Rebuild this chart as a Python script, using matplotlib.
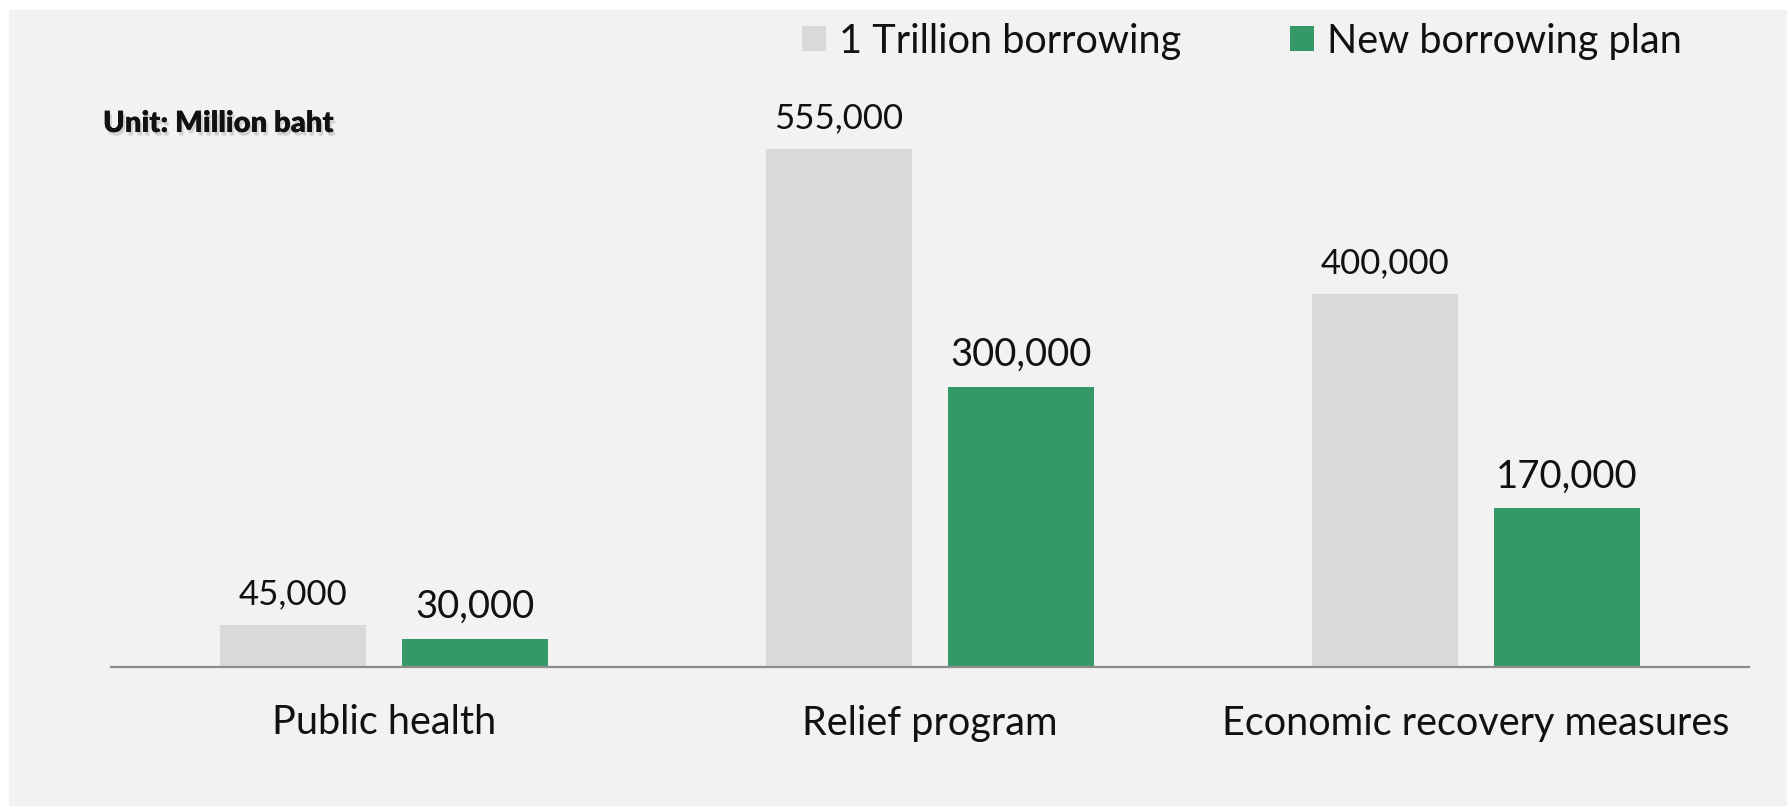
import matplotlib.pyplot as plt
import matplotlib.patheffects as pe
from matplotlib.patches import Rectangle
import numpy as np

# data
categories = ["Public health", "Relief program", "Economic recovery measures"]
old_plan = [45000, 555000, 400000]
new_plan = [30000, 300000, 170000]
series_names = ["1 Trillion borrowing", "New borrowing plan"]

plt.rcParams["font.family"] = ["Lato", "DejaVu Sans"]

W, H = 1787, 806
fig = plt.figure(figsize=(W / 100, H / 100), dpi=100, facecolor="white")
# grey panel (small white margin top & left)
fig.patches.append(Rectangle((9 / W, 0), 1 - 9 / W, 1 - 10 / H,
                             transform=fig.transFigure, facecolor="#f2f2f2",
                             edgecolor="none", zorder=-10))

ax = fig.add_axes([111 / W, 1 - 667 / H, (1749 - 111) / W, 560 / H])
ax.set_facecolor("none")

x = np.arange(len(categories))
w = 0.267
off = 0.167
b1 = ax.bar(x - off, old_plan, w, color="#d9d9d9", label=series_names[0])
b2 = ax.bar(x + off, new_plan, w, color="#339966", label=series_names[1])

for rect, v in zip(b1, old_plan):
    ax.annotate(f"{v:,}", (rect.get_x() + rect.get_width() / 2, v),
                xytext=(0, 15), textcoords="offset points",
                ha="center", va="baseline", fontsize=25, color="#111111")
for rect, v in zip(b2, new_plan):
    ax.annotate(f"{v:,}", (rect.get_x() + rect.get_width() / 2, v),
                xytext=(0, 15), textcoords="offset points",
                ha="center", va="baseline", fontsize=27.5, color="#111111")

ax.set_xlim(-0.5, 2.5)
ax.set_ylim(0, 600000)
ax.set_xticks(x)
ax.set_xticklabels(categories, fontsize=28.5, color="#111111")
ax.tick_params(axis="x", length=0, pad=27)
ax.set_yticks([])
for s in ["top", "left", "right"]:
    ax.spines[s].set_visible(False)
ax.spines["bottom"].set_color("#8c8c8c")
ax.spines["bottom"].set_linewidth(1.6)

fig.legend(handles=[b1, b2], loc="center left", bbox_to_anchor=(802 / W, 1 - 41 / H),
           ncol=2, frameon=False, fontsize=28.5, handlelength=0.6, handleheight=0.58,
           handletextpad=0.33, columnspacing=2.75, labelcolor="#111111",
           borderpad=0, borderaxespad=0)

fig.text(103 / W, 1 - 132 / H, "Unit: Million baht", fontsize=21, fontweight="heavy",
         color="#111111", va="baseline",
         path_effects=[pe.withSimplePatchShadow(offset=(1.5, -2.5), shadow_rgbFace="#a0a0a0", alpha=0.4),
                       pe.Normal()])

fig.savefig("out.png", dpi=100, facecolor=fig.get_facecolor())
